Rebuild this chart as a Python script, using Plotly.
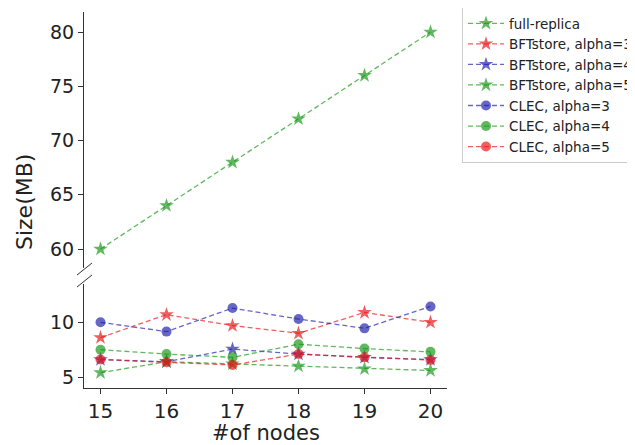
import plotly.graph_objects as go

nodes = [15, 16, 17, 18, 19, 20]
full_replica = [60, 64, 68, 72, 76, 80]
bft_a3 = [8.6, 10.7, 9.7, 9.0, 10.9, 10.0]
bft_a4 = [6.6, 6.4, 7.55, 7.1, 6.8, 6.6]
bft_a5 = [5.4, 6.4, 6.2, 6.0, 5.75, 5.6]
clec_a3 = [10.0, 9.15, 11.3, 10.3, 9.45, 11.45]
clec_a4 = [7.5, 7.1, 6.8, 8.0, 7.6, 7.3]
clec_a5 = [6.6, 6.35, 6.1, 7.1, 6.8, 6.55]

GREEN = "rgba(20,150,20,0.68)"
RED = "rgba(230,20,20,0.68)"
BLUE = "rgba(30,30,170,0.68)"

fig = go.Figure()

def add(name, y, color, symbol, top=False):
    fig.add_trace(go.Scatter(
        x=nodes, y=y, name=name, mode="lines+markers",
        line=dict(color=color, width=1.3, dash="5px,3px"),
        marker=dict(color=color, symbol=symbol, size=10 if symbol == "circle" else 11,
                    line=dict(width=0)),
        xaxis="x2" if top else "x", yaxis="y2" if top else "y",
    ))

add("full-replica", full_replica, GREEN, "star", top=True)
add("BFTstore, alpha=3", bft_a3, RED, "star")
add("BFTstore, alpha=4", bft_a4, BLUE, "star")
add("BFTstore, alpha=5", bft_a5, GREEN, "star")
add("CLEC, alpha=3", clec_a3, BLUE, "circle")
add("CLEC, alpha=4", clec_a4, GREEN, "circle")
add("CLEC, alpha=5", clec_a5, RED, "circle")

# page body has an 8px margin: figure coords = screen coords - 8
OFF = 8
W, H = 627, 437
L, T = 84 - OFF, 12 - OFF
B = H - (388 - OFF)
R = W - (447 - OFF)
ph = H - T - B
pw = W - L - R

def py(sy):
    return (H - B - (sy - OFF)) / ph

def px(sx):
    return (sx - OFF - L) / pw

common = dict(showline=True, linecolor="#333", linewidth=1, ticks="outside",
              ticklen=5, tickcolor="#333", showgrid=False, zeroline=False)

fig.update_layout(
    width=W, height=H,
    margin=dict(l=L, r=R, t=T, b=B, autoexpand=False),
    plot_bgcolor="white", paper_bgcolor="white",
    font=dict(family="DejaVu Sans", color="#222"),
    xaxis=dict(domain=[0, 1], anchor="y", range=[14.75, 20.25],
               tickvals=nodes, tickfont=dict(size=20, color="#222"),
               **common),
    xaxis2=dict(domain=[0, 1], anchor="y2", range=[14.75, 20.25], matches="x",
                visible=False),
    yaxis=dict(domain=[0, py(284)], anchor="x", range=[4, 13.5],
               tickvals=[5, 10], tickfont=dict(size=19, color="#222"), **common),
    yaxis2=dict(domain=[py(268), 1], anchor="x2", range=[58.25, 81.85],
                tickvals=[60, 65, 70, 75, 80], tickfont=dict(size=19, color="#222"),
                **common),
    legend=dict(x=px(462), y=py(7), xanchor="left", yanchor="top",
                bgcolor="white", bordercolor="#cccccc", borderwidth=1,
                itemwidth=36,
                font=dict(family="DejaVu Sans", size=13.5, color="#222"),
                tracegroupgap=0),
    showlegend=True,
)

fig.add_annotation(text="#of nodes", x=px(266), y=py(433), xref="paper", yref="paper",
                   showarrow=False, font=dict(size=21, color="#222"),
                   xanchor="center", yanchor="middle")

fig.add_annotation(text="Size(MB)", x=px(25), y=py(202), xref="paper", yref="paper",
                   showarrow=False, textangle=-90, font=dict(size=22, color="#222"),
                   xanchor="center", yanchor="middle")

for y0 in (275, 287):
    fig.add_shape(type="line", xref="paper", yref="paper",
                  x0=px(77), y0=py(y0), x1=px(92), y1=py(y0 - 12),
                  line=dict(color="#333", width=1))

fig.write_html("out.html")
